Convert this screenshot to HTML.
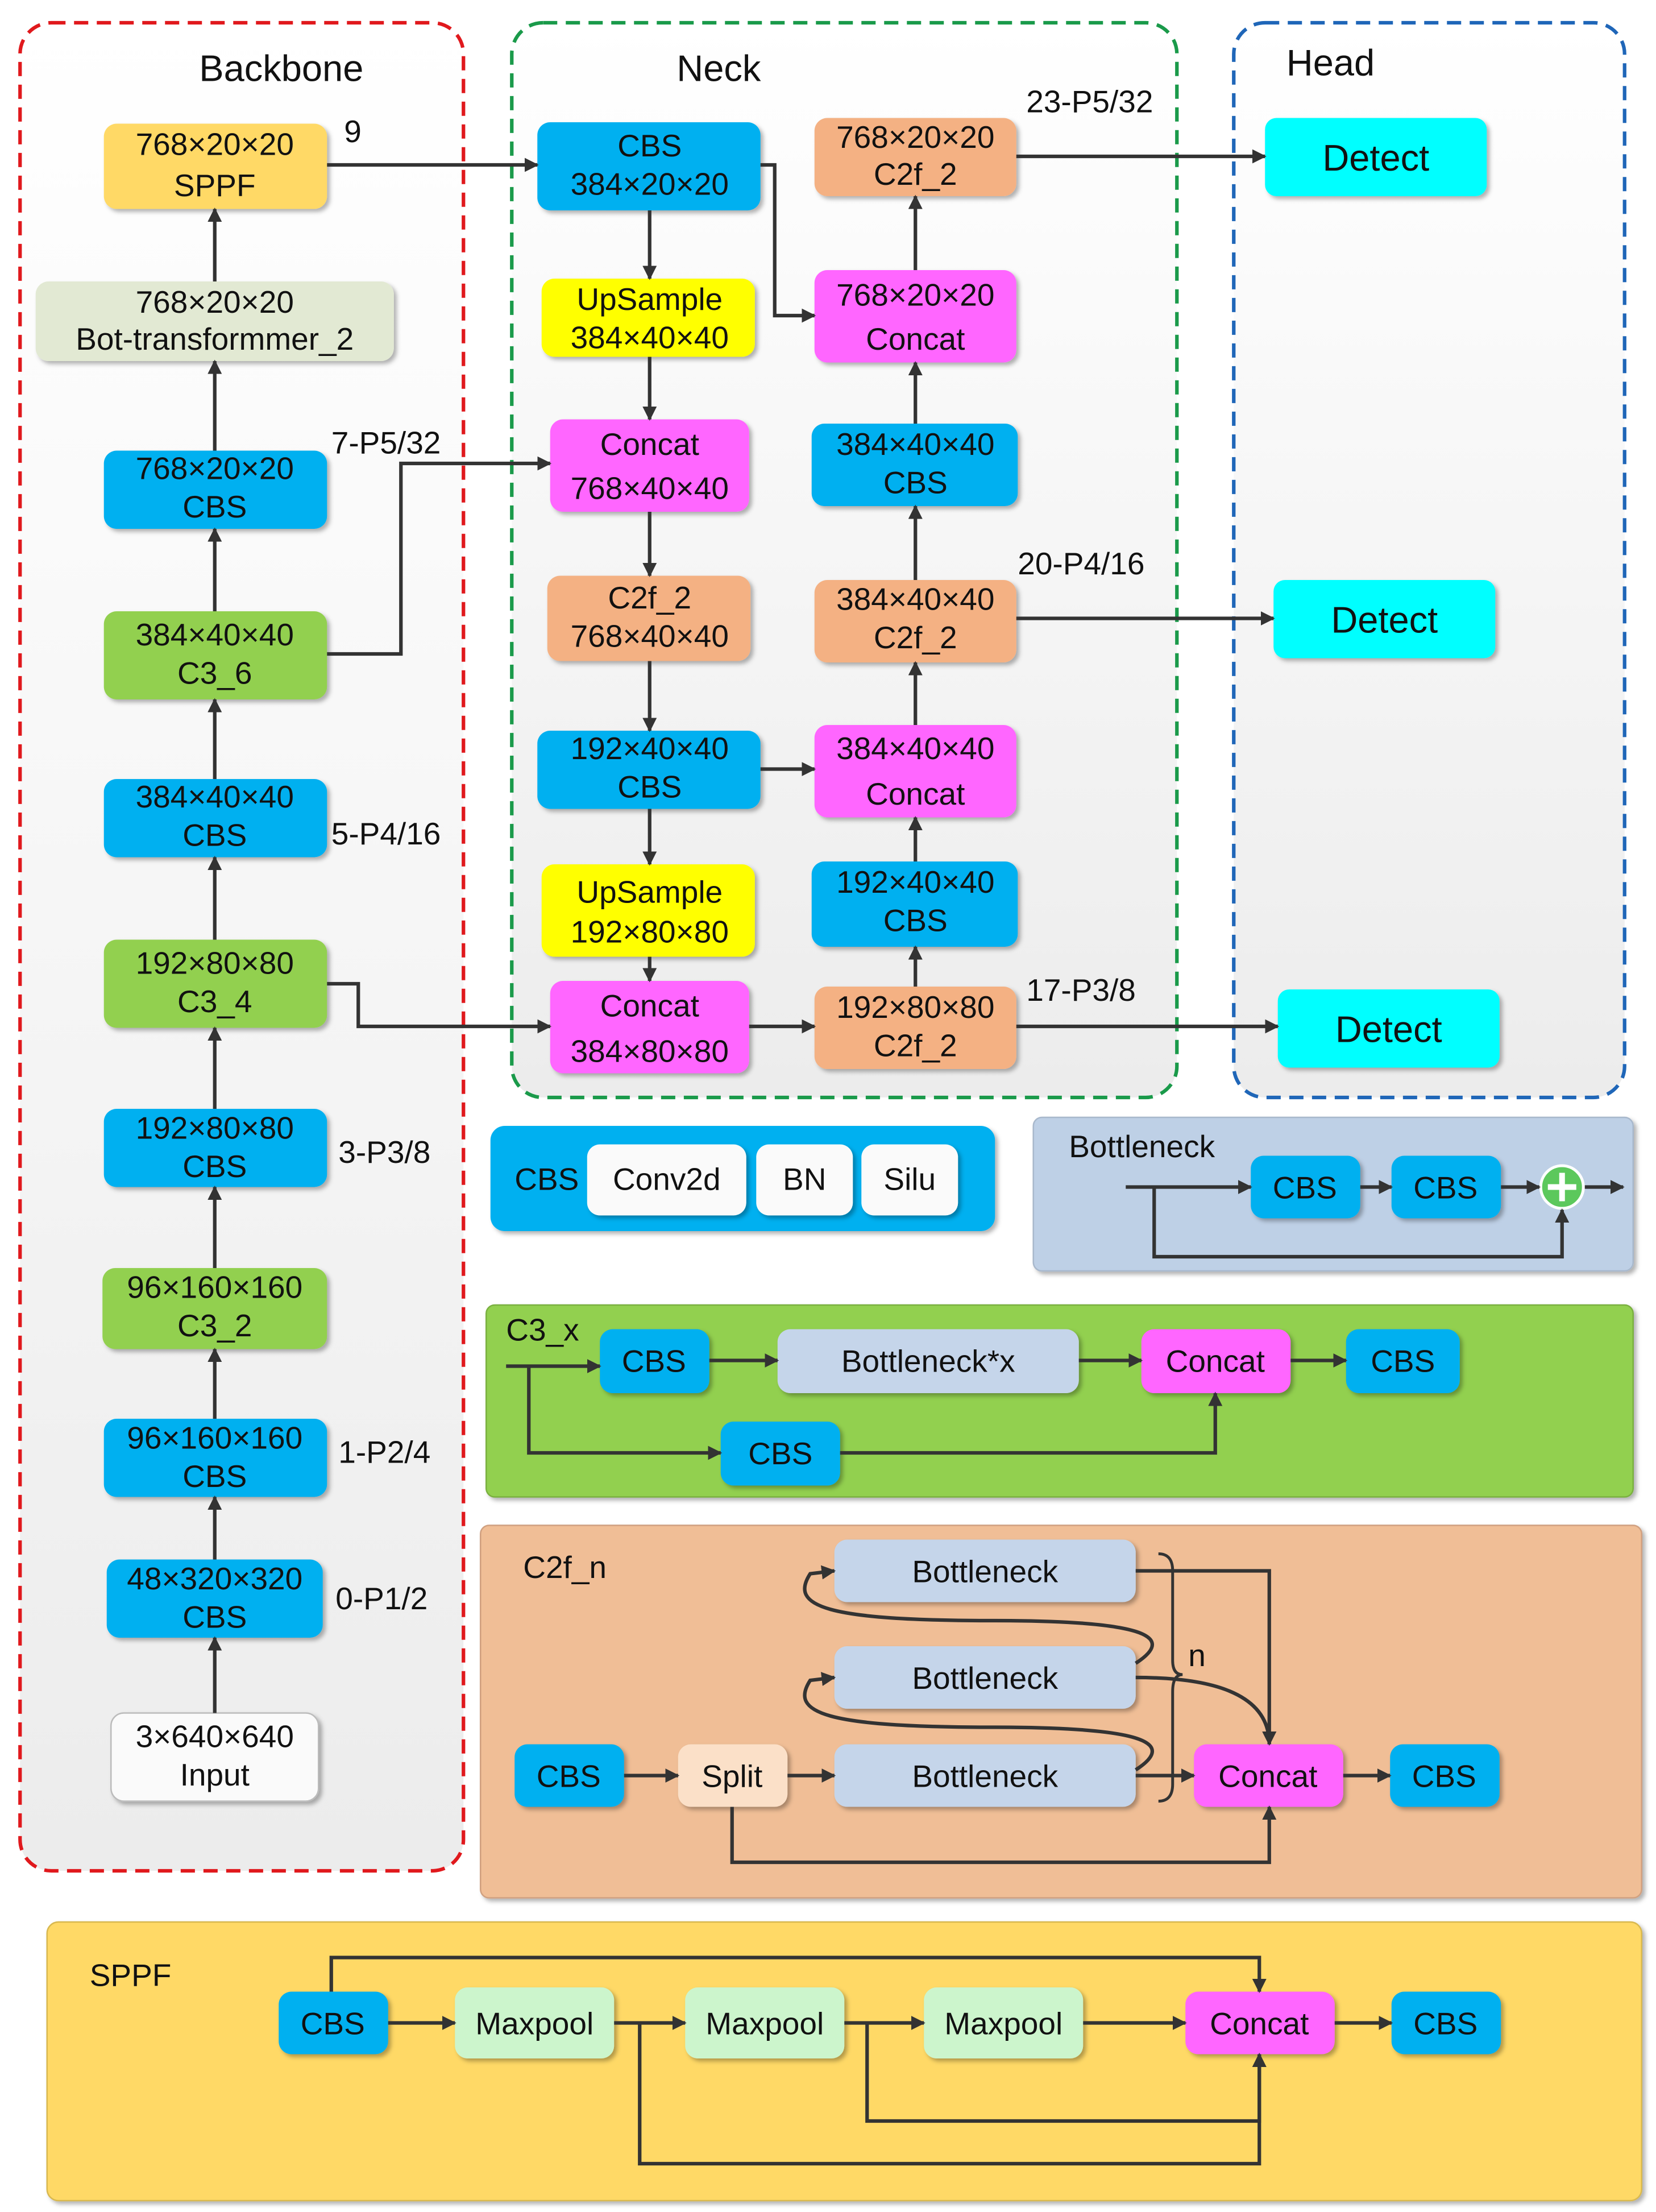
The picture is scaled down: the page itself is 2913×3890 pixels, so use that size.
<!DOCTYPE html>
<html><head><meta charset="utf-8"><style>
html,body{margin:0;padding:0;background:#fff}
svg{display:block}
text{font-family:"Liberation Sans",sans-serif;font-size:22px;fill:#111}
</style></head><body>
<svg width="2913" height="3890" viewBox="0 0 1165 1556" xmlns="http://www.w3.org/2000/svg">
<defs>
<linearGradient id="bg" x1="0" y1="0" x2="0" y2="1"><stop offset="0" stop-color="#ffffff"/><stop offset="1" stop-color="#ececec"/></linearGradient>
<marker id="a" markerWidth="10" markerHeight="10" refX="9" refY="5" orient="auto" markerUnits="userSpaceOnUse"><path d="M0,0 L10,5 L0,10 z" fill="#333"/></marker>
<filter id="sh" x="-10%" y="-10%" width="130%" height="140%"><feDropShadow dx="2" dy="2" stdDeviation="1.5" flood-color="#000" flood-opacity="0.3"/></filter>
</defs>
<g fill="url(#bg)" stroke-width="2.5" stroke-dasharray="10,6">
<rect x="14" y="16" width="312" height="1300" rx="22" stroke="#e0191d"/>
<rect x="360" y="16" width="468" height="756" rx="22" stroke="#1a9a4a"/>
<rect x="868" y="16" width="275" height="756" rx="22" stroke="#1f66b8"/>
</g>
<text x="140" y="57" font-size="26" style="font-size:26px">Backbone</text>
<text x="476" y="57" style="font-size:26px">Neck</text>
<text x="905" y="53" style="font-size:26px">Head</text>

<!-- legend boxes -->
<g filter="url(#sh)">
<rect x="345" y="792" width="355" height="74" rx="10" fill="#00b0f0"/>
<rect x="727" y="786" width="422" height="108" rx="6" fill="#bed0e6" stroke="#a8b8cc"/>
<rect x="342" y="918" width="807" height="135" rx="6" fill="#92d050" stroke="#7ab040"/>
<rect x="338" y="1073" width="817" height="262" rx="6" fill="#f0be96" stroke="#d0a080"/>
<rect x="33" y="1352" width="1122" height="196" rx="8" fill="#ffd966" stroke="#d8b850"/>
</g>

<g filter="url(#sh)">
<!-- backbone -->
<rect x="73" y="87" width="157" height="60" rx="9" fill="#ffd966"/>
<rect x="25" y="198" width="252" height="56" rx="9" fill="#e2e9d3"/>
<rect x="73" y="317" width="157" height="55" rx="9" fill="#00b0f0"/>
<rect x="73" y="430" width="157" height="62" rx="9" fill="#92d050"/>
<rect x="73" y="548" width="157" height="55" rx="9" fill="#00b0f0"/>
<rect x="73" y="661" width="157" height="62" rx="9" fill="#92d050"/>
<rect x="73" y="780" width="157" height="55" rx="9" fill="#00b0f0"/>
<rect x="72" y="892" width="158" height="57" rx="9" fill="#92d050"/>
<rect x="73" y="998" width="157" height="55" rx="9" fill="#00b0f0"/>
<rect x="75" y="1097" width="152" height="55" rx="9" fill="#00b0f0"/>
<rect x="78" y="1205" width="146" height="62" rx="9" fill="#fafafa" stroke="#bbb"/>
<!-- neck col1 -->
<rect x="378" y="86" width="157" height="62" rx="9" fill="#00b0f0"/>
<rect x="381" y="196" width="150" height="55" rx="9" fill="#ffff00"/>
<rect x="387" y="295" width="140" height="65" rx="9" fill="#ff66ff"/>
<rect x="385" y="405" width="143" height="60" rx="9" fill="#f4b183"/>
<rect x="378" y="514" width="157" height="55" rx="9" fill="#00b0f0"/>
<rect x="381" y="608" width="150" height="65" rx="9" fill="#ffff00"/>
<rect x="387" y="690" width="140" height="65" rx="9" fill="#ff66ff"/>
<!-- col2 -->
<rect x="573" y="83" width="142" height="55" rx="9" fill="#f4b183"/>
<rect x="573" y="190" width="142" height="65" rx="9" fill="#ff66ff"/>
<rect x="571" y="298" width="145" height="58" rx="9" fill="#00b0f0"/>
<rect x="573" y="408" width="142" height="58" rx="9" fill="#f4b183"/>
<rect x="573" y="510" width="142" height="65" rx="9" fill="#ff66ff"/>
<rect x="571" y="606" width="145" height="60" rx="9" fill="#00b0f0"/>
<rect x="573" y="694" width="142" height="58" rx="9" fill="#f4b183"/>
<!-- head -->
<rect x="890" y="83" width="156" height="55" rx="8" fill="#00ffff"/>
<rect x="896" y="408" width="156" height="55" rx="8" fill="#00ffff"/>
<rect x="899" y="696" width="156" height="55" rx="8" fill="#00ffff"/>
<!-- cbs legend -->
<rect x="413" y="805" width="112" height="50" rx="9" fill="#fafafa"/>
<rect x="532" y="805" width="68" height="50" rx="9" fill="#fafafa"/>
<rect x="606" y="805" width="68" height="50" rx="9" fill="#fafafa"/>
<!-- bottleneck -->
<rect x="880" y="813" width="77" height="44" rx="9" fill="#00b0f0"/>
<rect x="979" y="813" width="77" height="44" rx="9" fill="#00b0f0"/>
<!-- c3x -->
<rect x="422" y="935" width="77" height="45" rx="9" fill="#00b0f0"/>
<rect x="547" y="935" width="212" height="45" rx="9" fill="#c5d5ea"/>
<rect x="803" y="935" width="105" height="45" rx="9" fill="#ff66ff"/>
<rect x="947" y="935" width="80" height="45" rx="9" fill="#00b0f0"/>
<rect x="507" y="1000" width="84" height="45" rx="9" fill="#00b0f0"/>
<!-- c2f -->
<rect x="362" y="1227" width="77" height="44" rx="9" fill="#00b0f0"/>
<rect x="477" y="1227" width="77" height="44" rx="9" fill="#fbe0c8"/>
<rect x="587" y="1227" width="212" height="44" rx="9" fill="#c5d5ea"/>
<rect x="587" y="1158" width="212" height="44" rx="9" fill="#c5d5ea"/>
<rect x="587" y="1083" width="212" height="44" rx="9" fill="#c5d5ea"/>
<rect x="840" y="1227" width="105" height="44" rx="9" fill="#ff66ff"/>
<rect x="978" y="1227" width="77" height="44" rx="9" fill="#00b0f0"/>
<!-- sppf -->
<rect x="196" y="1401" width="77" height="44" rx="9" fill="#00b0f0"/>
<rect x="320" y="1398" width="112" height="50" rx="9" fill="#ccf5cc"/>
<rect x="482" y="1398" width="112" height="50" rx="9" fill="#ccf5cc"/>
<rect x="650" y="1398" width="112" height="50" rx="9" fill="#ccf5cc"/>
<rect x="834" y="1401" width="105" height="44" rx="9" fill="#ff66ff"/>
<rect x="979" y="1401" width="77" height="44" rx="9" fill="#00b0f0"/>
</g>
<circle cx="1099" cy="835" r="15" fill="#5cc85c" stroke="#fff" stroke-width="2"/>
<path d="M1099,825 V845 M1089,835 H1109" stroke="#fff" stroke-width="4"/>

<g stroke="#333" stroke-width="2.5" fill="none" marker-end="url(#a)">
<!-- backbone ups -->
<path d="M151,1205 V1152"/><path d="M151,1097 V1053"/><path d="M151,998 V949"/><path d="M151,892 V835"/>
<path d="M151,780 V723"/><path d="M151,661 V603"/><path d="M151,548 V492"/><path d="M151,430 V372"/>
<path d="M151,317 V254"/><path d="M151,198 V147"/>
<path d="M230,116 H378"/>
<path d="M535,116 H545 V222 H573"/>
<path d="M457,148 V196"/><path d="M457,251 V295"/><path d="M457,360 V405"/><path d="M457,465 V514"/>
<path d="M457,569 V608"/><path d="M457,673 V690"/>
<path d="M230,460 H282 V326 H387"/>
<path d="M230,692 H252 V722 H387"/>
<path d="M527,722 H573"/>
<path d="M535,541 H573"/>
<path d="M644,694 V666"/><path d="M644,606 V575"/><path d="M644,510 V466"/><path d="M644,408 V356"/><path d="M644,298 V255"/><path d="M644,190 V138"/>
<path d="M715,110 H890"/><path d="M715,435 H896"/><path d="M715,722 H899"/>
<!-- bottleneck -->
<path d="M792,835 H880"/><path d="M957,835 H979"/><path d="M1056,835 H1083"/><path d="M1115,835 H1142"/>
<path d="M812,835 V884 H1099 V851"/>
<!-- c3x -->
<path d="M356,961 H422"/><path d="M499,957 H547"/><path d="M759,957 H803"/><path d="M908,957 H947"/>
<path d="M372,961 V1022 H507"/><path d="M591,1022 H855 V980"/>
<!-- c2f -->
<path d="M439,1249 H477"/><path d="M554,1249 H587"/><path d="M799,1249 H840"/><path d="M945,1249 H978"/>
<path d="M799,1105 H893 V1227"/>
<path d="M799,1180 C850,1180 893,1190 893,1227"/>
<path d="M515,1271 V1310 H893 V1271"/>
<path d="M799,1245 C830,1225 800,1215 700,1215 C580,1215 555,1205 570,1182 L587,1180"/>
<path d="M799,1170 C830,1150 800,1140 700,1140 C580,1140 555,1130 570,1107 L587,1105"/>
<!-- sppf -->
<path d="M273,1423 H320"/><path d="M432,1423 H482"/><path d="M594,1423 H650"/><path d="M762,1423 H834"/><path d="M939,1423 H979"/>
<path d="M233,1401 V1377 H886 V1401"/>
<path d="M450,1423 V1522 H886 V1445"/>
<path d="M610,1423 V1492 H886 V1445"/>
</g>
<path d="M815,1093 Q825,1093 825,1105 V1168 Q825,1178 832,1178 Q825,1178 825,1190 V1255 Q825,1267 815,1267" stroke="#333" stroke-width="2" fill="none"/>

<g text-anchor="middle">
<text x="151" y="109">768×20×20</text><text x="151" y="138">SPPF</text>
<text x="151" y="220">768×20×20</text><text x="151" y="246">Bot-transformmer_2</text>
<text x="151" y="337">768×20×20</text><text x="151" y="364">CBS</text>
<text x="151" y="454">384×40×40</text><text x="151" y="481">C3_6</text>
<text x="151" y="568">384×40×40</text><text x="151" y="595">CBS</text>
<text x="151" y="685">192×80×80</text><text x="151" y="712">C3_4</text>
<text x="151" y="801">192×80×80</text><text x="151" y="828">CBS</text>
<text x="151" y="913">96×160×160</text><text x="151" y="940">C3_2</text>
<text x="151" y="1019">96×160×160</text><text x="151" y="1046">CBS</text>
<text x="151" y="1118">48×320×320</text><text x="151" y="1145">CBS</text>
<text x="151" y="1229">3×640×640</text><text x="151" y="1256">Input</text>

<text x="457" y="110">CBS</text><text x="457" y="137">384×20×20</text>
<text x="457" y="218">UpSample</text><text x="457" y="245">384×40×40</text>
<text x="457" y="320">Concat</text><text x="457" y="351">768×40×40</text>
<text x="457" y="428">C2f_2</text><text x="457" y="455">768×40×40</text>
<text x="457" y="534">192×40×40</text><text x="457" y="561">CBS</text>
<text x="457" y="635">UpSample</text><text x="457" y="663">192×80×80</text>
<text x="457" y="715">Concat</text><text x="457" y="747">384×80×80</text>

<text x="644" y="104">768×20×20</text><text x="644" y="130">C2f_2</text>
<text x="644" y="215">768×20×20</text><text x="644" y="246">Concat</text>
<text x="644" y="320">384×40×40</text><text x="644" y="347">CBS</text>
<text x="644" y="429">384×40×40</text><text x="644" y="456">C2f_2</text>
<text x="644" y="534">384×40×40</text><text x="644" y="566">Concat</text>
<text x="644" y="628">192×40×40</text><text x="644" y="655">CBS</text>
<text x="644" y="716">192×80×80</text><text x="644" y="743">C2f_2</text>

<text x="968" y="120" style="font-size:26px">Detect</text>
<text x="974" y="445" style="font-size:26px">Detect</text>
<text x="977" y="733" style="font-size:26px">Detect</text>

<text x="469" y="837">Conv2d</text><text x="566" y="837">BN</text><text x="640" y="837">Silu</text>
<text x="918" y="843">CBS</text><text x="1017" y="843">CBS</text>
<text x="460" y="965">CBS</text><text x="653" y="965">Bottleneck*x</text><text x="855" y="965">Concat</text><text x="987" y="965">CBS</text>
<text x="549" y="1030">CBS</text>
<text x="400" y="1257">CBS</text><text x="515" y="1257">Split</text><text x="693" y="1257">Bottleneck</text>
<text x="693" y="1188">Bottleneck</text><text x="693" y="1113">Bottleneck</text>
<text x="892" y="1257">Concat</text><text x="1016" y="1257">CBS</text>
<text x="234" y="1431">CBS</text><text x="376" y="1431">Maxpool</text><text x="538" y="1431">Maxpool</text><text x="706" y="1431">Maxpool</text>
<text x="886" y="1431">Concat</text><text x="1017" y="1431">CBS</text>
</g>
<text x="242" y="100">9</text>
<text x="233" y="319">7-P5/32</text>
<text x="233" y="594">5-P4/16</text>
<text x="238" y="818">3-P3/8</text>
<text x="238" y="1029">1-P2/4</text>
<text x="236" y="1132">0-P1/2</text>
<text x="722" y="79">23-P5/32</text>
<text x="716" y="404">20-P4/16</text>
<text x="722" y="704">17-P3/8</text>
<text x="362" y="837">CBS</text>
<text x="752" y="814">Bottleneck</text>
<text x="356" y="943">C3_x</text>
<text x="368" y="1110">C2f_n</text>
<text x="836" y="1172">n</text>
<text x="63" y="1397">SPPF</text>
</svg>
</body></html>
